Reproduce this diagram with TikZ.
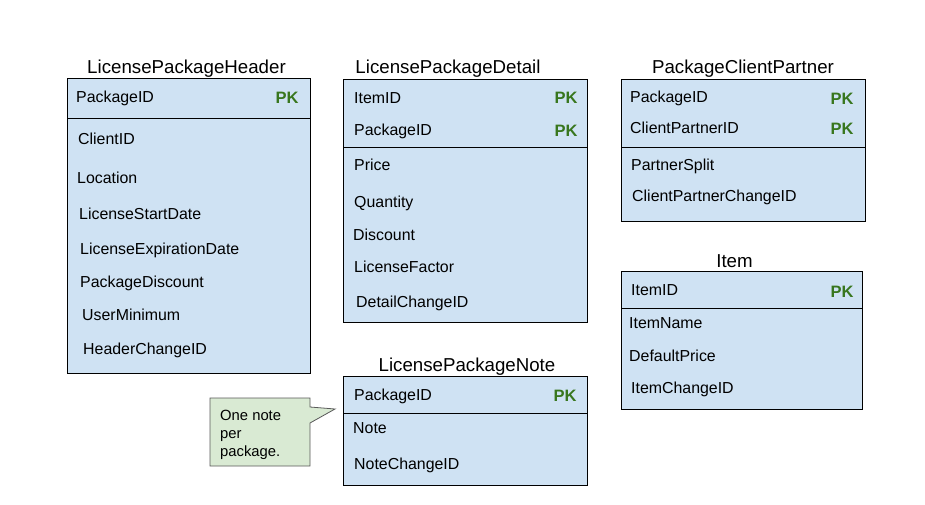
\documentclass[tikz,border=0pt]{standalone}
\usepackage{fontspec}
\setmainfont{Liberation Sans}
\usetikzlibrary{positioning}
\definecolor{tblblue}{HTML}{CFE2F3}
\definecolor{pkgreen}{HTML}{38761D}
\definecolor{notegreen}{HTML}{D9EAD3}
\definecolor{noteedge}{HTML}{595959}
\newcommand{\fsz}[1]{\fontsize{#1}{#1}\selectfont}

\begin{document}
\begin{tikzpicture}[x=1pt,y=-1pt,
    tbl/.style={draw=black, fill=tblblue, anchor=north west, inner sep=0pt, outer sep=0pt, line width=0.8pt},
    ttl/.style={anchor=base, inner sep=0pt, font=\fsz{18.7}},
    field/.style={anchor=base west, inner sep=0pt, font=\fsz{15.9}},
    notetext/.style={anchor=base west, inner sep=0pt, font=\fsz{14.8}},
    pk/.style={anchor=base, inner sep=0pt, text=pkgreen, font=\fsz{16.5}\bfseries}]
  \fill[white] (0,0) rectangle (925,505);
  \useasboundingbox (0,0) rectangle (925,505);

  % LicensePackageHeader
  \node[tbl, minimum width=243pt, minimum height=295pt] (LPH) at (67,78) {};
  \node[ttl] (LPHtitle) at ([xshift=-2pt,yshift=4pt]LPH.north) {LicensePackageHeader};
  \draw[line width=0.8pt] ([yshift=-40pt]LPH.north west) -- ([yshift=-40pt]LPH.north east);
  \node[field] (LPHpkg) at (76,103) {PackageID};
  \node[pk] (LPHpk) at (287,104) {PK};
  \node[field] (LPHclient) at (78,145) {ClientID};
  \node[field] (LPHloc) at (77,183) {Location};
  \node[field] (LPHstart) at (79,219) {LicenseStartDate};
  \node[field] (LPHexp) at (80,254) {LicenseExpirationDate};
  \node[field] (LPHdisc) at (80,287) {PackageDiscount};
  \node[field] (LPHmin) at (82,320) {UserMinimum};
  \node[field] (LPHchg) at (83,354) {HeaderChangeID};

  % LicensePackageDetail
  \node[tbl, minimum width=244pt, minimum height=243pt] (LPD) at (343,79) {};
  \node[ttl] (LPDtitle) at ([xshift=-17pt,yshift=5pt]LPD.north) {LicensePackageDetail};
  \draw[line width=0.8pt] ([yshift=-68pt]LPD.north west) -- ([yshift=-68pt]LPD.north east);
  \node[field] (LPDitem) at (354,104) {ItemID};
  \node[pk] (LPDpk1) at (566,104) {PK};
  \node[field] (LPDpkg) at (354,136) {PackageID};
  \node[pk] (LPDpk2) at (566,137) {PK};
  \node[field] (LPDprice) at (354,171) {Price};
  \node[field] (LPDqty) at (354,207) {Quantity};
  \node[field] (LPDdisc) at (353,240) {Discount};
  \node[field] (LPDfac) at (354,272) {LicenseFactor};
  \node[field] (LPDchg) at (356,307) {DetailChangeID};

  % LicensePackageNote
  \node[tbl, minimum width=244pt, minimum height=109pt] (LPN) at (343,376) {};
  \node[ttl] (LPNtitle) at ([xshift=2pt,yshift=5pt]LPN.north) {LicensePackageNote};
  \draw[line width=0.8pt] ([yshift=-37pt]LPN.north west) -- ([yshift=-37pt]LPN.north east);
  \node[field] (LPNpkg) at (354,400) {PackageID};
  \node[pk] (LPNpk) at (565,401) {PK};
  \node[field] (LPNnote) at (353,433) {Note};
  \node[field] (LPNchg) at (354,469) {NoteChangeID};

  % callout
  \filldraw[draw=noteedge, fill=notegreen, line width=0.8pt]
    (210,398) -- (310,398) -- (310,407) -- (335,409) -- (310,423) -- (310,466) -- (210,466) -- cycle;
  \node[notetext] (Note1) at (220,420) {One note};
  \node[notetext] (Note2) at (220,438) {per};
  \node[notetext] (Note3) at (220,456) {package.};

  % PackageClientPartner
  \node[tbl, minimum width=244pt, minimum height=142pt] (PCP) at (621,79) {};
  \node[ttl] (PCPtitle) at ([yshift=5pt]PCP.north) {PackageClientPartner};
  \draw[line width=0.8pt] ([yshift=-68pt]PCP.north west) -- ([yshift=-68pt]PCP.north east);
  \node[field] (PCPpkg) at (630,103) {PackageID};
  \node[pk] (PCPpk1) at (842,105) {PK};
  \node[field] (PCPcp) at (630,134) {ClientPartnerID};
  \node[pk] (PCPpk2) at (842,135) {PK};
  \node[field] (PCPsplit) at (631,171) {PartnerSplit};
  \node[field] (PCPchg) at (632,201) {ClientPartnerChangeID};

  % Item
  \node[tbl, minimum width=241pt, minimum height=138pt] (ITM) at (621,271) {};
  \node[ttl] (ITMtitle) at ([xshift=-7pt,yshift=4pt]ITM.north) {Item};
  \draw[line width=0.8pt] ([yshift=-37pt]ITM.north west) -- ([yshift=-37pt]ITM.north east);
  \node[field] (ITMid) at (631,295) {ItemID};
  \node[pk] (ITMpk) at (842,297) {PK};
  \node[field] (ITMname) at (629,328) {ItemName};
  \node[field] (ITMprice) at (629,361) {DefaultPrice};
  \node[field] (ITMchg) at (631,393) {ItemChangeID};
\end{tikzpicture}
\end{document}
